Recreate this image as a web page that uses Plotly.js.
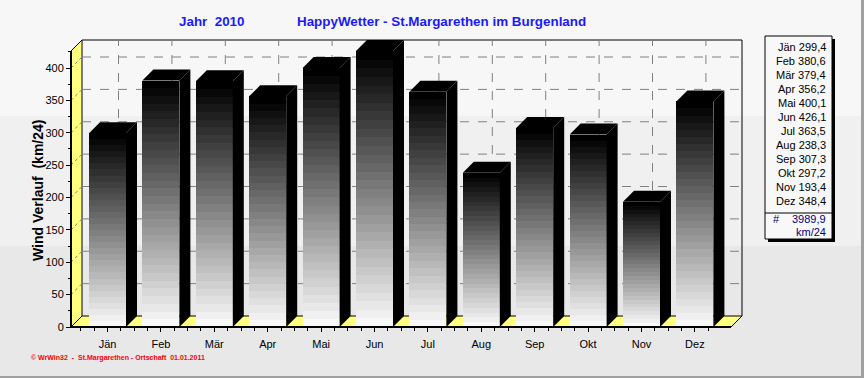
<!DOCTYPE html>
<html><head><meta charset="utf-8">
<script src="https://cdn.plot.ly/plotly-3.0.1.min.js"></script>
<style>html,body{margin:0;padding:0;background:#e8e8e8;}#chart{width:864px;height:378px;}</style>
</head><body><div id="chart"></div>
<script>
// ---- data ----
const categories = ['Jän','Feb','Mär','Apr','Mai','Jun','Jul','Aug','Sep','Okt','Nov','Dez'];
const values = [299.4,380.6,379.4,356.2,400.1,426.1,363.5,238.3,307.3,297.2,193.4,348.4];
const totalText = '3989,9';
const unitText = 'km/24';
const yTickVals = [0,50,100,150,200,250,300,350,400];
const titleYear = 'Jahr  2010';
const titleMain = 'HappyWetter - St.Margarethen im Burgenland';
const yTitle = 'Wind Verlauf  (km/24)';
const footer = '© WrWin32  -  St.Margarethen - Ortschaft  01.01.2011';

// ---- geometry (pixels) ----
const W=864,H=378;
const Lp=69,Rp=745,Tp=38,Bp=329;          // plot area
const frontLeft=71, baseline=327, frontRight=731, backTop=40;
const DXpx=11, DYpx=11;
const pxPerCat=53.4, firstCenter=107.5, pxPerVal=0.6475;
const barWidth=37/pxPerCat;
const NB=32;

const xv = px => (px-firstCenter)/pxPerCat;
const yv = py => (baseline-py)/pxPerVal;
const xp = px => (px-Lp)/(Rp-Lp);
const yp = py => (Bp-py)/(Bp-Tp);
const DXu = DXpx/pxPerCat, DYu = DYpx/pxPerVal;
const x0f = xv(frontLeft), xFR = xv(frontRight), xBR = xFR + DXu;
const yTopBack = yv(backTop), yTopFront = yTopBack - DYu;
const xs = categories.map((c,i)=>i);

// ---- traces: banded gradient bars ----
const traces=[];
for(let k=0;k<NB;k++){
  const g=Math.round(248*(1-k/(NB-1)));
  traces.push({type:'bar',x:xs,y:values.map(v=>v/NB),width:barWidth,
    marker:{color:`rgb(${g},${g},${g})`,line:{width:0}},hoverinfo:'skip',showlegend:false});
}

const shapes=[];
// background bands
shapes.push({type:'rect',xref:'paper',yref:'paper',x0:xp(0),x1:xp(W),y0:yp(0),y1:yp(116),fillcolor:'#f7f7f7',line:{width:0},layer:'below'});
shapes.push({type:'rect',xref:'paper',yref:'paper',x0:xp(0),x1:xp(W),y0:yp(116),y1:yp(246),fillcolor:'#f0f0f0',line:{width:0},layer:'below'});
// border right/bottom
shapes.push({type:'rect',xref:'paper',yref:'paper',x0:xp(861),x1:xp(864),y0:yp(0),y1:yp(378),fillcolor:'#a0a0a0',line:{width:0},layer:'below'});
shapes.push({type:'rect',xref:'paper',yref:'paper',x0:xp(0),x1:xp(864),y0:yp(376),y1:yp(378),fillcolor:'#a0a0a0',line:{width:0},layer:'below'});

// left wall
shapes.push({type:'path',xref:'x',yref:'y',layer:'below',
  path:`M${x0f},0 L${x0f},${yTopFront} L${x0f+DXu},${yTopBack} L${x0f+DXu},${DYu} Z`,
  fillcolor:'#ffff80',line:{color:'#000',width:1}});
// floor
shapes.push({type:'path',xref:'x',yref:'y',layer:'below',
  path:`M${x0f},0 L${xFR},0 L${xBR},${DYu} L${x0f+DXu},${DYu} Z`,
  fillcolor:'#ffff80',line:{color:'#000',width:1}});
// back wall outline
shapes.push({type:'path',xref:'x',yref:'y',layer:'below',
  path:`M${x0f+DXu},${yTopBack} L${xBR},${yTopBack} L${xBR},${DYu}`,
  line:{color:'#000',width:1}});
// grid lines
yTickVals.filter(v=>v>0).forEach(v=>{
  shapes.push({type:'line',xref:'x',yref:'y',layer:'below',x0:x0f+DXu,x1:xBR,y0:v+DYu,y1:v+DYu,line:{color:'#808080',width:1,dash:'dash'}});
  shapes.push({type:'line',xref:'x',yref:'y',layer:'below',x0:x0f,x1:x0f+DXu,y0:v,y1:v+DYu,line:{color:'#808080',width:1,dash:'dot'}});
});
xs.forEach(i=>{
  shapes.push({type:'line',xref:'x',yref:'y',layer:'below',x0:i+DXu,x1:i+DXu,y0:DYu,y1:yTopBack,line:{color:'#808080',width:1,dash:'dash'}});
});
// 3D bar side and top faces
values.forEach((v,i)=>{
  const xl=i-barWidth/2, xr=i+barWidth/2;
  shapes.push({type:'path',xref:'x',yref:'y',layer:'above',
    path:`M${xr},0 L${xr},${v} L${xr+DXu},${v+DYu} L${xr+DXu},${DYu} Z`,fillcolor:'#000',line:{width:0}});
  shapes.push({type:'path',xref:'x',yref:'y',layer:'above',
    path:`M${xl},${v} L${xl+DXu},${v+DYu} L${xr+DXu},${v+DYu} L${xr},${v} Z`,fillcolor:'#000',line:{width:0}});
});
// front axis lines
shapes.push({type:'line',xref:'paper',yref:'paper',x0:xp(frontLeft),x1:xp(frontLeft),y0:yp(baseline),y1:yp(baseline-(yTopFront*pxPerVal)),line:{color:'#000',width:2}});
shapes.push({type:'line',xref:'paper',yref:'paper',x0:xp(frontLeft),x1:xp(frontRight),y0:yp(baseline),y1:yp(baseline),line:{color:'#000',width:2}});

// legend box
const lbL=765,lbR=832,lbT=36,lbB=239;
shapes.push({type:'rect',xref:'paper',yref:'paper',x0:xp(lbL+3),x1:xp(lbR+3),y0:yp(lbB+3),y1:yp(lbT+3),fillcolor:'#000',line:{width:0}});
shapes.push({type:'rect',xref:'paper',yref:'paper',x0:xp(lbL),x1:xp(lbR),y0:yp(lbB),y1:yp(lbT),fillcolor:'#f8f8f8',line:{color:'#000',width:1}});
shapes.push({type:'line',xref:'paper',yref:'paper',x0:xp(lbL),x1:xp(lbR),y0:yp(213),y1:yp(213),line:{color:'#000',width:1}});

const annotations=[];
const fnt={family:'Arial, Liberation Sans, sans-serif',size:11,color:'#000'};
categories.forEach((c,i)=>{
  annotations.push({xref:'paper',yref:'paper',x:xp(828),y:yp(47+13.97*i),xanchor:'right',yanchor:'middle',
    text:`${c} ${values[i].toFixed(1).replace('.',',')}`,showarrow:false,font:fnt});
});
annotations.push({xref:'paper',yref:'paper',x:xp(771),y:yp(219),xanchor:'left',yanchor:'middle',text:'#',showarrow:false,font:{...fnt,color:'#000080'}});
annotations.push({xref:'paper',yref:'paper',x:xp(828),y:yp(219),xanchor:'right',yanchor:'middle',text:totalText,showarrow:false,font:{...fnt,color:'#000080'}});
annotations.push({xref:'paper',yref:'paper',x:xp(828),y:yp(232),xanchor:'right',yanchor:'middle',text:unitText,showarrow:false,font:{...fnt,color:'#000080'}});
// titles
const tf={family:'Liberation Sans Narrow, Arial Narrow, Arial, sans-serif',size:13.4,color:'#1a1aff',weight:'bold'};
annotations.push({xref:'paper',yref:'paper',x:xp(212),y:yp(22),xanchor:'center',yanchor:'middle',text:'<b>'+titleYear+'</b>',showarrow:false,font:tf});
annotations.push({xref:'paper',yref:'paper',x:xp(441),y:yp(22),xanchor:'center',yanchor:'middle',text:'<b>'+titleMain+'</b>',showarrow:false,font:tf});
annotations.push({xref:'paper',yref:'paper',x:xp(38),y:yp(191),xanchor:'center',yanchor:'middle',textangle:-90,text:'<b>'+yTitle+'</b>',showarrow:false,font:{family:'Arial, Liberation Sans, sans-serif',size:14,color:'#000'}});
annotations.push({xref:'paper',yref:'paper',x:xp(29),y:yp(358),xanchor:'left',yanchor:'middle',text:'<b>'+footer+'</b>',showarrow:false,font:{family:'Arial, Liberation Sans, sans-serif',size:7,color:'#ff0000'}});

const layout={
  width:W,height:H,margin:{l:Lp,r:W-Rp,t:Tp,b:H-Bp,pad:0},
  paper_bgcolor:'#e8e8e8',plot_bgcolor:'rgba(0,0,0,0)',
  barmode:'stack',bargap:0,showlegend:false,
  xaxis:{range:[xv(Lp),xv(Rp)],tickvals:xs,ticktext:categories,showgrid:false,zeroline:false,showline:false,
    ticks:'outside',ticklen:4,tickcolor:'#000',anchor:'free',position:yp(baseline),
    tickfont:{family:'Arial, Liberation Sans, sans-serif',size:11,color:'#000'},ticklabelstandoff:3,
    minor:{tickvals:xs.flatMap(i=>[i-0.5,i+0.25,i-0.25]),ticks:'outside',ticklen:3,tickcolor:'#000'}},
  yaxis:{range:[yv(Bp),yv(Tp)],tickvals:yTickVals,showgrid:false,zeroline:false,showline:false,
    ticks:'outside',ticklen:5,tickcolor:'#000',anchor:'free',position:xp(frontLeft),
    tickfont:{family:'Arial, Liberation Sans, sans-serif',size:11,color:'#000'},
    minor:{dtick:25,ticks:'outside',ticklen:3,tickcolor:'#000'}},
  shapes:shapes,annotations:annotations
};
Plotly.newPlot('chart',traces,layout,{staticPlot:true,displayModeBar:false});
</script></body></html>
